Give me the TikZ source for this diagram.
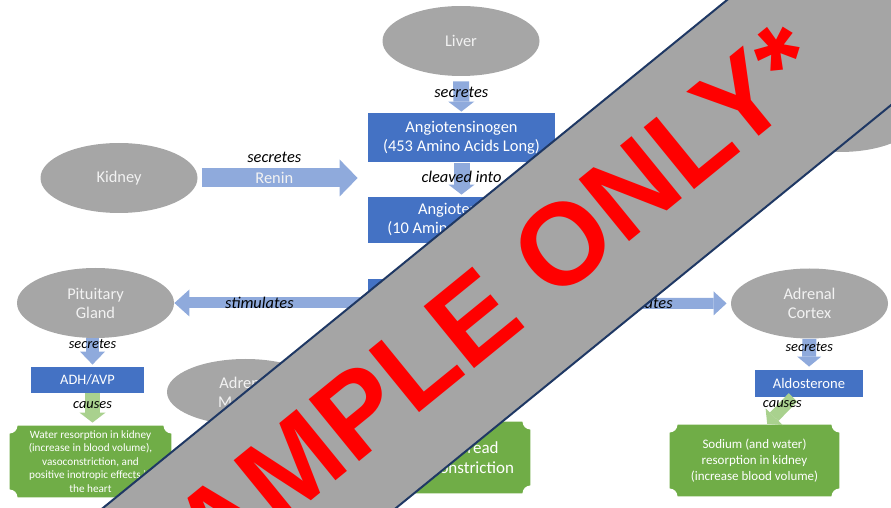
\documentclass[tikz,border=0pt]{standalone}
\usepackage{fontspec}
\setmainfont{Carlito}
\newfontfamily\stampfont{Liberation Sans}
\usetikzlibrary{shapes.geometric,arrows.meta,backgrounds,positioning}
\definecolor{organgray}{HTML}{A6A6A6}
\definecolor{organtext}{HTML}{F2F2F2}
\definecolor{hormoneblue}{HTML}{4472C4}
\definecolor{flowblue}{HTML}{8FAADC}
\definecolor{effectgreen}{HTML}{70AD47}
\definecolor{flowgreen}{HTML}{A9D18E}
\definecolor{stampgray}{HTML}{A5A5A5}
\definecolor{stampnavy}{HTML}{1F3864}
\definecolor{stampred}{HTML}{FF0000}
% green box with cut-in corners
\newcommand\plaque[2]{%
  \fill[effectgreen] ([xshift=#2]#1.north west) -- ([xshift=-#2]#1.north east)
    arc[start angle=180, end angle=270, radius=#2] -- ([yshift=#2]#1.south east)
    arc[start angle=90, end angle=180, radius=#2] -- ([xshift=#2]#1.south west)
    arc[start angle=0, end angle=90, radius=#2] -- ([yshift=-#2]#1.north west)
    arc[start angle=270, end angle=360, radius=#2] -- cycle;}
\tikzset{
    organ/.style={ellipse, fill=organgray, text=organtext, minimum width=78.5pt, minimum height=35pt, inner sep=0pt, align=center, font=\fontsize{8.2}{9.5}\selectfont},
    hormone/.style={rectangle, fill=hormoneblue, text=white, inner sep=0pt, align=center, font=\fontsize{8.2}{9.5}\selectfont},
    effect/.style={rectangle, inner sep=0pt, text=white, align=center, minimum height=35.5pt},
    verb/.style={font=\fontsize{8.2}{9.5}\selectfont\itshape, inner sep=1pt},
    smallverb/.style={font=\fontsize{7.2}{8.5}\selectfont\itshape, inner sep=1pt},
    flow/.style n args={4}{draw=#1, line width=#2, -{Triangle[width=#3, length=#4, line width=0pt]}}
}

\begin{document}
\begin{tikzpicture}[x=0.5pt, y=-0.5pt]
\useasboundingbox (0,0) rectangle (891,508);
\clip (0,0) rectangle (891,508);

% organs
\node[organ] (liver) at (461,41) {Liver};
\node[organ] (kidney) at (119,178) {Kidney};
\node[organ, minimum width=75pt, minimum height=32pt] (lungs) at (840,120) {};
\node[organ] (pituitary) at (95.5,303) {Pituitary\\Gland};
\node[organ, minimum height=33pt] (medulla) at (245.5,392) {Adrenal\\Medulla};
\node[organ] (cortex) at (809.5,303.5) {Adrenal\\Cortex};

% hormones
\node[hormone, minimum width=93.5pt, minimum height=24.5pt] (angiotensinogen) at (461.5,137.5) {Angiotensinogen\\(453 Amino Acids Long)};
\node[hormone, minimum width=93.5pt, minimum height=23pt] (angI) at (461.5,220) {Angiotensin I\\(10 Amino Acids Long)};
\node[hormone, minimum width=93.5pt, minimum height=24pt] (angII) at (461.5,303) {};
\node[hormone, minimum width=56.5pt, minimum height=13pt, font=\fontsize{7.2}{8.5}\selectfont] (adh) at (87.5,380) {ADH/AVP};
\node[hormone, minimum width=54pt, minimum height=13.5pt, font=\fontsize{7.3}{8.5}\selectfont] (aldo) at (809,383.5) {Aldosterone};

% effects
\node[effect, minimum width=80.5pt, font=\fontsize{5.6}{6.8}\selectfont] (water) at (90.5,461.5) {Water resorption in kidney\\(increase in blood volume),\\vasoconstriction, and\\positive inotropic effects in\\the heart};
\node[effect, minimum width=73pt, font=\fontsize{8.5}{10}\selectfont] (vaso) at (457,457.5) {Widespread\\Vasoconstriction};
\node[effect, minimum width=84.5pt, font=\fontsize{6.5}{8}\selectfont] (sodium) at (754.5,460.5) {Sodium (and water)\\resorption in kidney\\(increase blood volume)};
\begin{scope}[on background layer]
  \plaque{water}{4pt}
  \plaque{vaso}{4pt}
  \plaque{sodium}{4pt}
\end{scope}

% connectors
\draw[flow={flowblue}{8pt}{13pt}{5pt}, shorten <=2.5pt, shorten >=0.5pt] (liver) -- (angiotensinogen)
  node[verb, midway, yshift=1pt] (secLiver) {secretes};
\draw[flow={flowblue}{8pt}{13pt}{5pt}, shorten <=0.5pt, shorten >=1pt] (angiotensinogen) -- (angI)
  node[verb, midway, yshift=1.5pt] (cleaved) {cleaved into};
\draw[flow={flowblue}{9.5pt}{18.5pt}{9pt}, shorten <=2pt, shorten >=5pt] (kidney) -- (kidney -| angI.west)
  node[verb, pos=.45, yshift=10.5pt] (secKidney) {secretes}
  node[pos=.45, text=organtext, font=\fontsize{8.2}{9.5}\selectfont] (renin) {Renin};
\draw[flow={flowblue}{5.5pt}{13.5pt}{7.5pt}] (angII) -- (pituitary)
  node[verb, pos=.56] (stimPit) {stimulates};
\draw[flow={flowblue}{5.5pt}{12pt}{6.5pt}, shorten >=2pt] (angII) -- (cortex)
  node[verb, pos=.474] (stimCortex) {stimulates};
\draw[flow={flowblue}{6.5pt}{12.5pt}{6.5pt}, shorten >=1pt] ([xshift=-1.5pt]pituitary.south) -- ([xshift=-1.5pt]pituitary.south |- adh.north)
  node[smallverb, pos=.2] (secPit) {secretes};
\draw[flow={flowgreen}{7.5pt}{13pt}{5pt}, shorten >=1.5pt] ([xshift=2.5pt]adh.south) -- ([xshift=2.5pt]adh.south |- water.north)
  node[smallverb, pos=.36] (causesADH) {causes};
\draw[flow={flowblue}{7pt}{12pt}{5pt}, shorten >=1.5pt] (cortex) -- (aldo)
  node[smallverb, pos=.26] (secCortex) {secretes};
\draw[flow={flowgreen}{6pt}{12pt}{5pt}, shorten >=0.5pt] ([xshift=-8pt]aldo.south) -- ([xshift=6pt]sodium.north)
  node[smallverb, pos=.25, xshift=-2pt] (causesAldo) {causes};

% watermark band
\fill[stampgray] (0,591.8) -- (1100,-303.6) -- (1100,-65) -- (0,830.4) -- cycle;
\draw[stampnavy, line width=1pt] (0,591.8) -- (1100,-303.6) (0,830.4) -- (1100,-65);
\node[rotate=39.15, text=stampred, font=\stampfont\bfseries\fontsize{58}{58}\selectfont, inner sep=0pt] (stamp) at (467,323) {SAMPLE ONLY*};
\end{tikzpicture}
\end{document}
